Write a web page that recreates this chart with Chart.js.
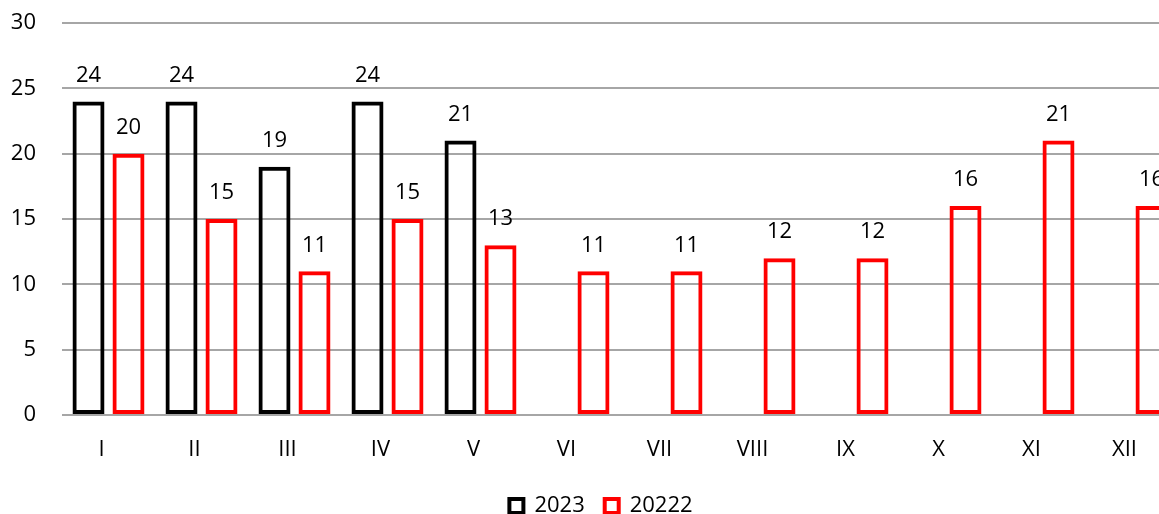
<!DOCTYPE html>
<html>
<head>
<meta charset="utf-8">
<script src="https://cdn.jsdelivr.net/npm/chart.js@4/dist/chart.umd.min.js"></script>
<style>
  html, body { margin: 0; padding: 0; overflow: hidden; background: #fff; }
  #wrap { width: 1202px; height: 527px; }
</style>
</head>
<body>
<div id="wrap"><canvas id="c" width="1202" height="527"></canvas></div>
<script>
const categories = ['I','II','III','IV','V','VI','VII','VIII','IX','X','XI','XII'];
const values2023 = [24, 24, 19, 24, 21, null, null, null, null, null, null, null];
const values20222 = [20, 15, 11, 15, 13, 11, 11, 12, 12, 16, 21, 16];
const yTicks = [0, 5, 10, 15, 20, 25, 30];

const FONT = '"Open Sans", "Liberation Sans", sans-serif';
const FSIZE = 22;

const valueLabels = {
  id: 'valueLabels',
  afterDatasetsDraw(chart) {
    const ctx = chart.ctx;
    ctx.save();
    ctx.font = FSIZE + 'px ' + FONT;
    ctx.fillStyle = '#000';
    ctx.textAlign = 'center';
    ctx.textBaseline = 'middle';
    chart.data.datasets.forEach((ds, di) => {
      const meta = chart.getDatasetMeta(di);
      meta.data.forEach((el, i) => {
        const v = ds.data[i];
        if (v === null || v === undefined) return;
        ctx.fillText(String(v), el.x, el.y - 26);
      });
    });
    ctx.restore();
  }
};

new Chart(document.getElementById('c'), {
  type: 'bar',
  data: {
    labels: categories,
    datasets: [
      {
        label: '2023',
        data: values2023,
        borderColor: '#000000',
        backgroundColor: 'rgba(255,255,255,0)',
        borderWidth: 4,
        borderSkipped: false,
        barPercentage: 0.8,
        categoryPercentage: 0.86
      },
      {
        label: '20222',
        data: values20222,
        borderColor: '#ff0000',
        backgroundColor: 'rgba(255,255,255,0)',
        borderWidth: 4,
        borderSkipped: false,
        barPercentage: 0.8,
        categoryPercentage: 0.86
      }
    ]
  },
  options: {
    responsive: false,
    animation: false,
    layout: { padding: { top: 23, left: 0, right: 0, bottom: 0 } },
    plugins: {
      tooltip: { enabled: false },
      legend: {
        position: 'bottom',
        labels: {
          color: '#000',
          font: { family: FONT, size: FSIZE },
          boxWidth: 14,
          boxHeight: 14,
          padding: 20
        }
      }
    },
    scales: {
      x: {
        grid: { display: false },
        border: { display: false },
        ticks: {
          color: '#000',
          font: { family: FONT, size: FSIZE },
          padding: 14,
          labelOffset: -7,
          maxRotation: 0,
          autoSkip: false
        },
        afterFit(s) { s.height = 60; }
      },
      y: {
        min: 0,
        max: 30,
        afterBuildTicks(s) { s.ticks = yTicks.map(v => ({ value: v })); },
        grid: { color: '#a6a6a6', lineWidth: 2, drawTicks: true, tickLength: 26, tickColor: 'rgba(0,0,0,0)' },
        border: { display: false },
        ticks: {
          color: '#000',
          font: { family: FONT, size: FSIZE },
          padding: 0
        },
        afterFit(s) { s.width = 62; }
      },
      yRight: {
        position: 'right',
        display: true,
        grid: { display: false, drawTicks: false },
        border: { display: false },
        ticks: { display: false },
        afterFit(s) { s.width = 24; }
      }
    }
  },
  plugins: [valueLabels]
});
</script>
</body>
</html>
